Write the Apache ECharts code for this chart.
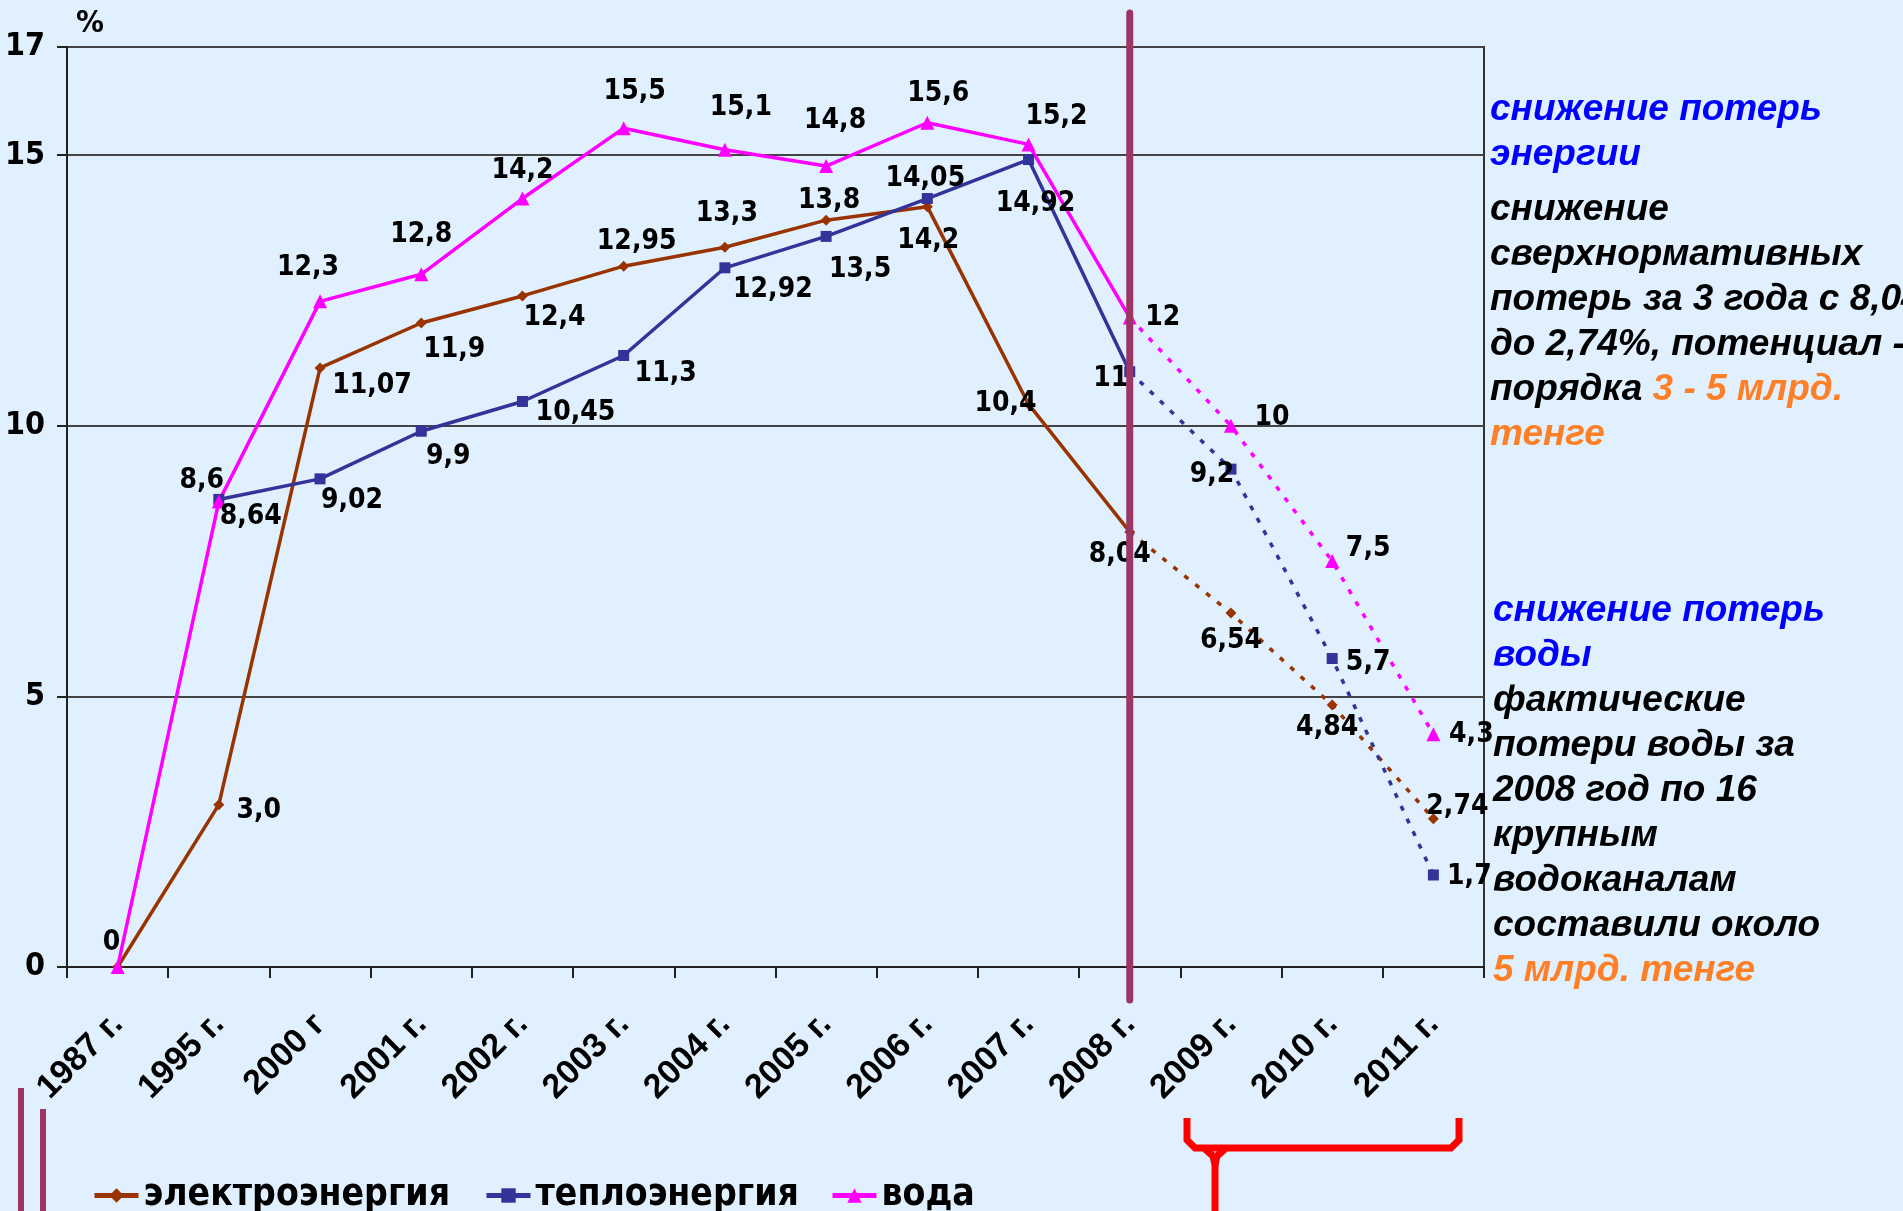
<!DOCTYPE html>
<html>
<head>
<meta charset="utf-8">
<script src="https://cdn.jsdelivr.net/npm/echarts@6/dist/echarts.min.js"></script>
<style>
html,body{margin:0;padding:0;background:#e0f0ff;}
#chart{width:1903px;height:1211px;}
</style>
</head>
<body>
<div id="chart"></div>
<script>
// ---------- data ----------
const categories = ['1987 г.','1995 г.','2000 г','2001 г.','2002 г.','2003 г.','2004 г.','2005 г.','2006 г.','2007 г.','2008 г.','2009 г.','2010 г.','2011 г.'];
const electricity = [0, 3.0, 11.07, 11.9, 12.4, 12.95, 13.3, 13.8, 14.05, 10.4, 8.04, 6.54, 4.84, 2.74];
const heat        = [null, 8.64, 9.02, 9.9, 10.45, 11.3, 12.92, 13.5, 14.2, 14.92, 11, 9.2, 5.7, 1.7];
const water       = [0, 8.6, 12.3, 12.8, 14.2, 15.5, 15.1, 14.8, 15.6, 15.2, 12, 10, 7.5, 4.3];
const electricityLabels = ['0','3,0','11,07','11,9','12,4','12,95','13,3','13,8','14,05','10,4','8,04','6,54','4,84','2,74'];
const heatLabels        = ['','8,64','9,02','9,9','10,45','11,3','12,92','13,5','14,2','14,92','11','9,2','5,7','1,7'];
const waterLabels       = ['','8,6','12,3','12,8','14,2','15,5','15,1','14,8','15,6','15,2','12','10','7,5','4,3'];
const seriesNames = ['электроэнергия','теплоэнергия','вода'];
const yTicks = {min:0, max:17, interval:5};
const lastActualIndex = 10; // 2008 – actual data, later years are forecast

// ---------- layout (label offsets in px, not data) ----------
const electricityOffsets = [[-6,-24],[40,6],[52,18],[33,27],[32,22],[13,-24],[2,-34],[3,-19],[-2,-28],[-23,0],[-10,23],[0,28],[-5,23],[24,-12]];
const heatOffsets        = [[0,0],[32,17],[32,22],[27,25],[53,11],[42,18],[48,22],[34,33],[1,42],[7,44],[-19,7],[-19,6],[36,4],[36,2]];
const waterOffsets       = [[0,0],[-17,-21],[-12,-34],[0,-40],[0,-28],[11,-36],[16,-42],[9,-45],[11,-29],[28,-28],[33,0],[41,-8],[36,-12],[38,0]];

const NARROW = "'Liberation Sans Narrow','DejaVu Sans Condensed',sans-serif";
const SANS = "'Liberation Sans',Arial,sans-serif";

const chart = echarts.init(document.getElementById('chart'), null, {renderer:'canvas'});

function makeSeries(name, values, labels, offsets, color, symbol, size){
  const lbl = (i) => ({
    show: labels[i] !== '',
    position: 'inside',
    formatter: labels[i],
    offset: offsets[i],
    color: '#000',
    fontFamily: NARROW,
    fontWeight: 'bold',
    fontSize: 28
  });
  const solid = values.map((v,i) => {
    if (i > lastActualIndex || v === null) return '-';
    return {value: v, label: lbl(i)};
  });
  const dashed = values.map((v,i) => {
    if (i < lastActualIndex || v === null) return '-';
    if (i === lastActualIndex) return {value: v, symbol: 'none', label: {show:false}};
    return {value: v, label: lbl(i)};
  });
  const common = {
    type: 'line', symbol: symbol, symbolSize: size,
    itemStyle: {color: color},
    emphasis: {disabled: true}, animation: false, connectNulls: false
  };
  return [
    Object.assign({}, common, {name: name, data: solid, lineStyle: {color: color, width: 3.5}}),
    Object.assign({}, common, {name: name + ' (прогноз)', data: dashed, lineStyle: {color: color, width: 3.5, type: [5, 9]}})
  ];
}

const series = [].concat(
  makeSeries(seriesNames[0], electricity, electricityLabels, electricityOffsets, '#993300', 'diamond', 11),
  makeSeries(seriesNames[1], heat, heatLabels, heatOffsets, '#333399', 'rect', 11),
  makeSeries(seriesNames[2], water, waterLabels, waterOffsets, '#ff00ff', 'triangle', 14)
);

function legendAt(name, left){
  return {
    data: [name], left: left, top: 1172, orient: 'horizontal',
    itemWidth: 44, itemHeight: 18, selectedMode: false,
    lineStyle: {width: 5},
    textStyle: {fontFamily: NARROW, fontWeight: 'bold', fontSize: 37, color: '#000'}
  };
}

const option = {
  backgroundColor: '#e0f0ff',
  animation: false,
  grid: {left: 67, right: 419, top: 47, bottom: 244, show: true, borderColor: '#333', borderWidth: 2, backgroundColor: 'transparent'},
  xAxis: {
    type: 'category', data: categories, boundaryGap: true,
    axisLine: {lineStyle: {color: '#222', width: 2}},
    axisTick: {show: true, length: 11, lineStyle: {color: '#222', width: 2}},
    axisLabel: {rotate: 45, margin: 52, interval: 0, color: '#000', fontFamily: SANS, fontWeight: 'bold', fontSize: 34},
    splitLine: {show: false}
  },
  yAxis: {
    type: 'value', min: yTicks.min, max: yTicks.max, interval: yTicks.interval,
    name: '%', nameLocation: 'end', nameGap: 8,
    nameTextStyle: {align: 'left', padding: [0,0,0,9], color: '#000', fontFamily: NARROW, fontWeight: 'bold', fontSize: 31},
    axisLine: {show: true, lineStyle: {color: '#222', width: 2}},
    axisTick: {show: true, length: 10, lineStyle: {color: '#222', width: 2}},
    axisLabel: {margin: 22, color: '#000', fontFamily: NARROW, fontWeight: 'bold', fontSize: 32},
    splitLine: {show: true, lineStyle: {color: '#444', width: 2}}
  },
  legend: [legendAt(seriesNames[0], 87), legendAt(seriesNames[1], 479), legendAt(seriesNames[2], 825)],
  series: series
};
chart.setOption(option);

// ---------- annotations ----------
const xLine = chart.convertToPixel({xAxisIndex: 0}, categories[lastActualIndex]);
const textBase = {fontFamily: SANS, fontWeight: 'bold', fontStyle: 'italic', fontSize: 37, lineHeight: 45};
const orange = '#ff7f27';
chart.setOption({
  graphic: [
    {type: 'line', shape: {x1: xLine, y1: 13, x2: xLine, y2: 1000}, style: {stroke: '#9b3564', lineWidth: 7, lineCap: 'round'}, z: 100},
    {type: 'line', shape: {x1: 21, y1: 1088, x2: 21, y2: 1215}, style: {stroke: '#9b3564', lineWidth: 6}},
    {type: 'line', shape: {x1: 43, y1: 1109, x2: 43, y2: 1215}, style: {stroke: '#9b3564', lineWidth: 6}},
    {type: 'polyline', shape: {points: [[1187,1118],[1187,1140],[1195,1148],[1451,1148],[1459,1140],[1459,1118]]}, style: {stroke: '#ff0000', lineWidth: 7, fill: null}},
    {type: 'polyline', shape: {points: [[1205,1149],[1213,1156],[1215,1165],[1215,1215]]}, style: {stroke: '#ff0000', lineWidth: 7, fill: null}},
    {type: 'polyline', shape: {points: [[1225,1149],[1217,1156],[1215,1165]]}, style: {stroke: '#ff0000', lineWidth: 7, fill: null}},
    {type: 'text', left: 1490, top: 87, style: Object.assign({}, textBase, {text: 'снижение потерь\nэнергии', fill: '#0000ff'})},
    {type: 'text', left: 1490, top: 187, style: Object.assign({}, textBase, {
      text: 'снижение\nсверхнормативных\nпотерь за 3 года с 8,04\nдо 2,74%, потенциал -\nпорядка {o|3 - 5 млрд.}\n{o|тенге}',
      fill: '#000',
      rich: {o: Object.assign({}, textBase, {fill: orange})}
    })},
    {type: 'text', left: 1493, top: 588, style: Object.assign({}, textBase, {
      text: '{b|снижение потерь}\n{b|воды}\nфактические\nпотери воды за\n2008 год по 16\nкрупным\nводоканалам\nсоставили около\n{o|5 млрд. тенге}',
      fill: '#000',
      rich: {b: Object.assign({}, textBase, {fill: '#0000ff'}), o: Object.assign({}, textBase, {fill: orange})}
    })}
  ]
});
</script>
</body>
</html>
